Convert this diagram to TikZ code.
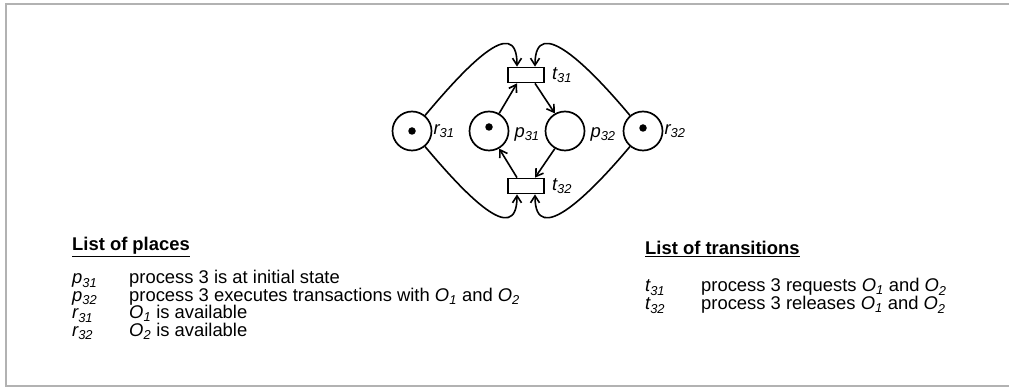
\documentclass[tikz,border=0pt]{standalone}
\usepackage{fontspec}
\setmainfont{Liberation Sans}
\usetikzlibrary{arrows.meta,positioning}

\newcommand{\pn}[2]{\textit{#1\textsubscript{#2}}}

\begin{document}
\begin{tikzpicture}[x=1pt,y=1pt,
  place/.style={draw,circle,line width=1.7pt,minimum size=39pt,inner sep=0pt},
  trans/.style={draw,rectangle,line width=1.7pt,minimum width=36pt,minimum height=15pt,inner sep=0pt},
  token/.style={fill,circle,inner sep=0pt,minimum size=7.5pt},
  arc/.style={->,line width=1.6pt,>={Straight Barb[length=7pt,width=9pt]}},
  lbl/.style={inner sep=0pt,font=\fontsize{18.4}{20}\selectfont},
  txt/.style={anchor=base west,inner sep=0pt,font=\fontsize{18.4}{20}\selectfont}]
        \useasboundingbox (0,0) rectangle (1009,388);
        \draw[gray!60,line width=1.5pt] (1009,384) -- (6,384) -- (6,2) -- (1009,2);
        % net
        \node[trans] (t31) at (526,313) {};
        \node[trans] (t32) at (526,202) {};
        \node[place] (r31) at (412,257) {};
        \node[place] (p31) at (489,257) {};
        \node[place] (p32) at (565,257) {};
        \node[place] (r32) at (643,257) {};
        \node[token] (k1) at (r31) {};
        \node[token] (k2) at ([yshift=4pt]p31.center) {};
        \node[token] (k3) at ([yshift=3pt]r32.center) {};
        \node[lbl,right=7pt of t31] (lt31) {\pn{t}{31}};
        \node[lbl,right=7pt of t32] (lt32) {\pn{t}{32}};
        \node[lbl,right=1pt of r31] (lr31) {\pn{r}{31}};
        \node[lbl,right=5pt of p31,yshift=-3pt] (lp31) {\pn{p}{31}};
        \node[lbl,right=5pt of p32,yshift=-3pt] (lp32) {\pn{p}{32}};
        \node[lbl,right=1pt of r32] (lr32) {\pn{r}{32}};
        \draw[arc] (p31.60) -- ([xshift=-9pt]t31.south);
        \draw[arc] ([xshift=9pt]t31.south) -- (p32.120);
        \draw[arc] (p32.-120) -- ([xshift=9pt]t32.north);
        \draw[arc] ([xshift=-9pt]t32.north) -- (p31.-60);
        \draw[arc] (r31.50) .. controls +(50:60) and +(90:55) .. ([xshift=-9pt]t31.north);
        \draw[arc] (r32.130) .. controls +(130:60) and +(90:55) .. ([xshift=9pt]t31.north);
        \draw[arc] (r31.-50) .. controls +(-50:60) and +(-90:55) .. ([xshift=-9pt]t32.south);
        \draw[arc] (r32.-130) .. controls +(-130:60) and +(-90:55) .. ([xshift=9pt]t32.south);
        % lists
        \node[txt] (hp) at (72,137) {\textbf{\underline{List of places}}};
        \node[txt] (np1) at (72,104) {\pn{p}{31}};
        \node[txt] (np2) at (72,86.5) {\pn{p}{32}};
        \node[txt] (np3) at (72,69) {\pn{r}{31}};
        \node[txt] (np4) at (72,51.5) {\pn{r}{32}};
        \node[txt] (dp1) at (129,104) {process 3 is at initial state};
        \node[txt] (dp2) at (129,86.5) {process 3 executes transactions with \pn{O}{1} and \pn{O}{2}};
        \node[txt] (dp3) at (129,69) {\pn{O}{1} is available};
        \node[txt] (dp4) at (129,51.5) {\pn{O}{2} is available};
        \node[txt] (ht) at (645,133) {\textbf{\underline{List of transitions}}};
        \node[txt] (nt1) at (645,96) {\pn{t}{31}};
        \node[txt] (nt2) at (645,78) {\pn{t}{32}};
        \node[txt] (dt1) at (701,96) {process 3 requests \pn{O}{1} and \pn{O}{2}};
        \node[txt] (dt2) at (701,78) {process 3 releases \pn{O}{1} and \pn{O}{2}};
\end{tikzpicture}
\end{document}
